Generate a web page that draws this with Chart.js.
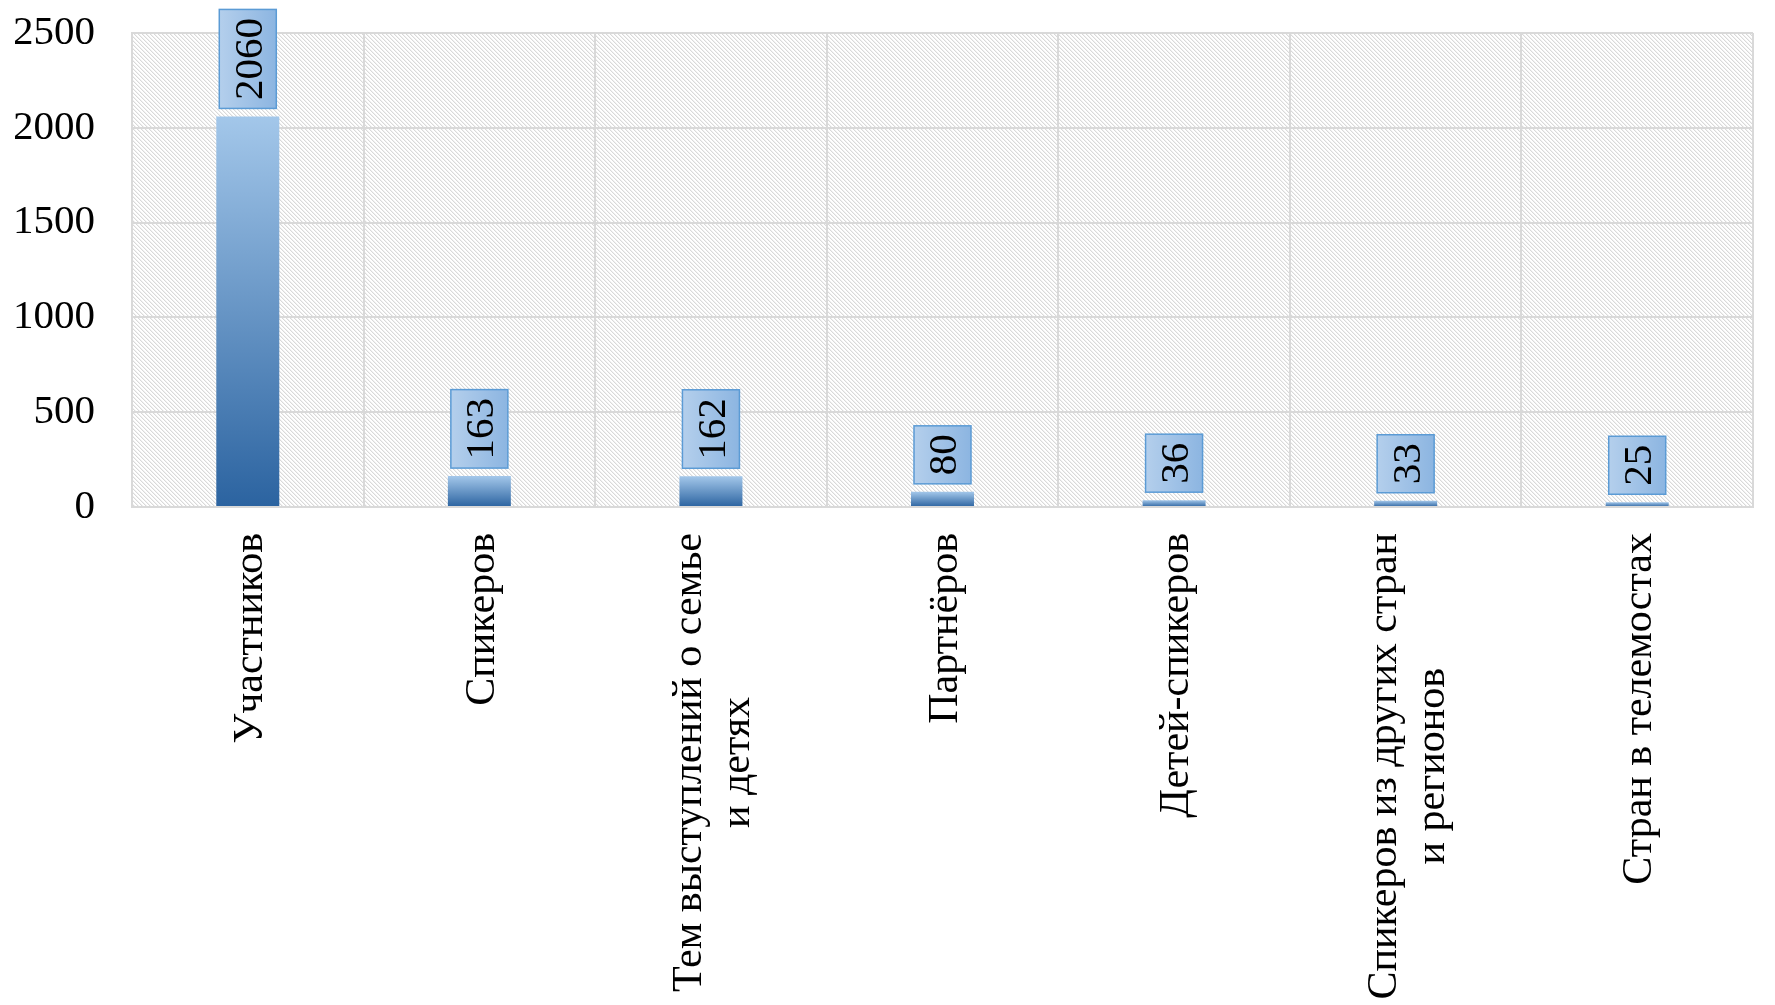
<!DOCTYPE html>
<html>
<head>
<meta charset="utf-8">
<title>Итоги</title>
<script src="https://cdn.jsdelivr.net/npm/chart.js@4.4.1/dist/chart.umd.min.js"></script>
<style>
  html, body { margin: 0; padding: 0; background: #fff; }
  #wrap { width: 1775px; height: 1005px; }
</style>
</head>
<body>
<div id="wrap"><canvas id="chart"></canvas></div>
<script>
// Categories (multi-line where the original wraps)
const categories = [
    ['Участников'],
    ['Спикеров'],
    ['Тем выступлений о семье', 'и детях'],
    ['Партнёров'],
    ['Детей-спикеров'],
    ['Спикеров из других стран', 'и регионов'],
    ['Стран в телемостах']
];
const values = [2060, 163, 162, 80, 36, 33, 25];
const yMin = 0;
const yMax = 2500;
const yStep = 500;

const FONT = '"Liberation Serif", "Times New Roman", serif';
const TICK_SIZE = 41;
const LABEL_SIZE = 42;
const GRID = '#d9d9d9';

// Diagonal hatch used as plot background
function makeHatch() {
    const tile = document.createElement('canvas');
    tile.width = 4; tile.height = 4;
    const tctx = tile.getContext('2d');
    tctx.fillStyle = '#ffffff';
    tctx.fillRect(0, 0, 4, 4);
    for (let i = 0; i < 4; i++) {
        tctx.fillStyle = '#d9d9d9';
        tctx.fillRect(i, i, 1, 1);
        tctx.fillStyle = '#f1f1f1';
        tctx.fillRect((i + 1) % 4, i, 1, 1);
    }
    return tctx.createPattern(tile, 'repeat');
}

const plotBackground = {
    id: 'plotBackground',
    beforeDraw(chart) {
        const { ctx, chartArea: a } = chart;
        ctx.save();
        ctx.fillStyle = makeHatch();
        ctx.fillRect(a.left, a.top, a.right - a.left, a.bottom - a.top);
        ctx.restore();
    }
};

// Rotated value labels in small boxes above each bar
const valueBoxes = {
    id: 'valueBoxes',
    afterDatasetsDraw(chart) {
        const ctx = chart.ctx;
        const meta = chart.getDatasetMeta(0);
        ctx.save();
        ctx.font = TICK_SIZE + 'px ' + FONT;
        meta.data.forEach((bar, i) => {
            const text = String(values[i]);
            const tw = ctx.measureText(text).width;
            const w = 57, h = tw + 17;
            const bottom = bar.y - 8;
            const left = bar.x - w / 2, top = bottom - h;
            const g = ctx.createLinearGradient(left, 0, left + w, 0);
            g.addColorStop(0, '#b4cfec');
            g.addColorStop(1, '#8cb5e1');
            ctx.fillStyle = g;
            ctx.fillRect(left, top, w, h);
            ctx.strokeStyle = '#5b9bd5';
            ctx.lineWidth = 1.5;
            ctx.strokeRect(left, top, w, h);
            ctx.save();
            ctx.translate(bar.x + TICK_SIZE * 0.34, top + h / 2);
            ctx.rotate(-Math.PI / 2);
            ctx.fillStyle = '#000';
            ctx.textAlign = 'center';
            ctx.textBaseline = 'alphabetic';
            ctx.fillText(text, 0, 0);
            ctx.restore();
        });
        ctx.restore();
    }
};

// Vertical category labels, lines centred on each other
const categoryLabels = {
    id: 'categoryLabels',
    afterDraw(chart) {
        const ctx = chart.ctx;
        const xScale = chart.scales.x;
        const top = chart.chartArea.bottom + 26;
        const lineH = 48;
        ctx.save();
        ctx.font = LABEL_SIZE + 'px ' + FONT;
        ctx.fillStyle = '#000';
        ctx.textAlign = 'center';
        ctx.textBaseline = 'alphabetic';
        categories.forEach((lines, i) => {
            const cx = xScale.getPixelForValue(i);
            const maxW = Math.max(...lines.map(l => ctx.measureText(l).width));
            const cy = top + maxW / 2;
            lines.forEach((line, j) => {
                const bx = cx + (j - (lines.length - 1) / 2) * lineH + LABEL_SIZE * 0.34;
                ctx.save();
                ctx.translate(bx, cy);
                ctx.rotate(-Math.PI / 2);
                ctx.fillText(line, 0, 0);
                ctx.restore();
            });
        });
        ctx.restore();
    }
};

function barGradient(c) {
    const chart = c.chart;
    if (!chart.chartArea || c.type !== 'data') return '#5b9bd5';
    const y = chart.scales.y;
    const yTop = y.getPixelForValue(c.raw);
    const yBase = y.getPixelForValue(0);
    const g = chart.ctx.createLinearGradient(0, yBase, 0, yTop);
    g.addColorStop(0, '#2b63a0');
    g.addColorStop(1, '#a3c7ea');
    return g;
}

new Chart(document.getElementById('chart').getContext('2d'), {
    type: 'bar',
    data: {
        labels: categories,
        datasets: [{
            data: values,
            backgroundColor: barGradient,
            borderWidth: 0,
            barPercentage: 0.272,
            categoryPercentage: 1
        }]
    },
    options: {
        responsive: true,
        maintainAspectRatio: false,
        animation: false,
        layout: { padding: { left: 15, top: 33, right: 22, bottom: 498 } },
        plugins: {
            legend: { display: false },
            title: { display: false },
            tooltip: { enabled: false }
        },
        scales: {
            x: {
                offset: true,
                grid: { color: GRID, lineWidth: 2, offset: true, drawTicks: false },
                border: { color: GRID, width: 2 },
                ticks: { display: false }
            },
            y: {
                min: yMin,
                max: yMax,
                afterFit(scale) {
                    scale.width = 117;
                    scale.paddingTop = 0;
                    scale.paddingBottom = 0;
                },
                grid: { color: GRID, lineWidth: 2, drawTicks: false },
                border: { color: GRID, width: 2 },
                ticks: {
                    stepSize: yStep,
                    padding: 37,
                    color: '#000',
                    font: { family: FONT, size: TICK_SIZE },
                    callback: v => String(v)
                }
            }
        }
    },
    plugins: [plotBackground, valueBoxes, categoryLabels]
});
</script>
</body>
</html>
